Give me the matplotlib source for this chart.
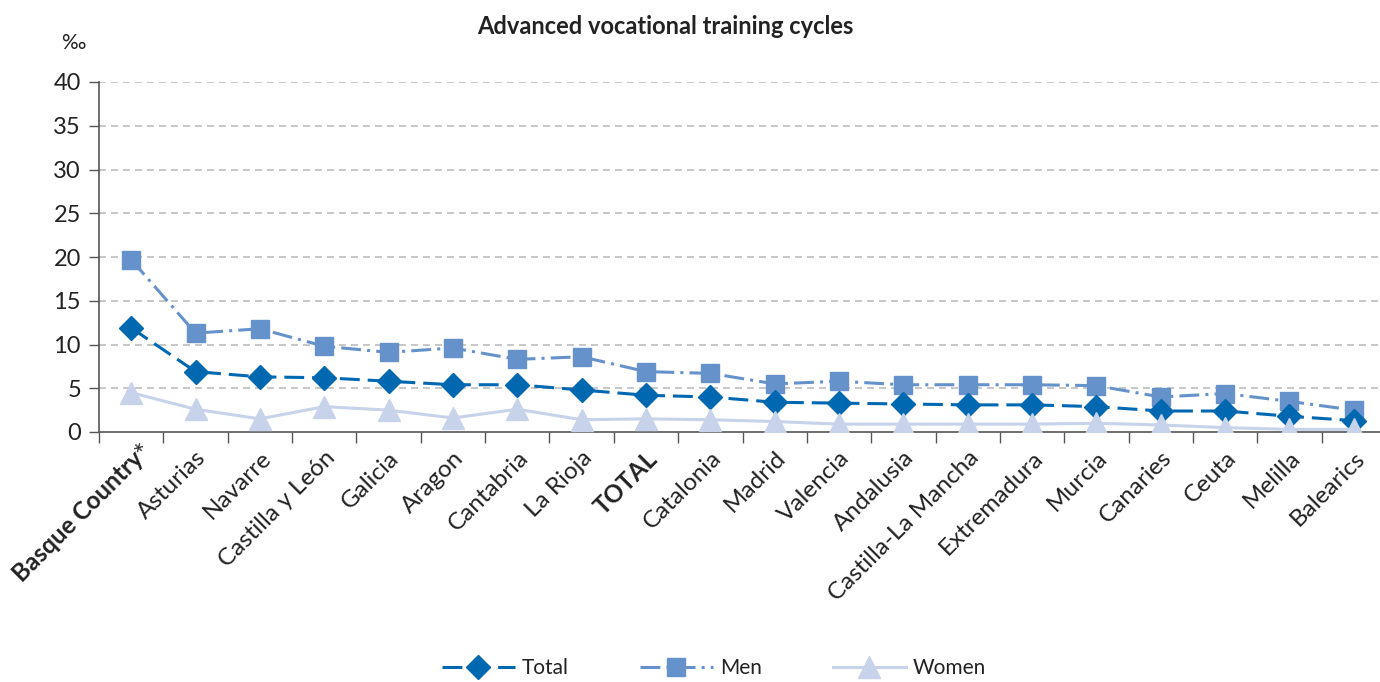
import numpy as np
import matplotlib
matplotlib.use("Agg")
import matplotlib.pyplot as plt
from matplotlib.ticker import FixedLocator

plt.rcParams['font.family'] = ['Lato', 'DejaVu Sans']

# Datos por comunidad (tanto por mil)
regions = ['Basque Country', 'Asturias', 'Navarre', 'Castilla y León', 'Galicia',
           'Aragon', 'Cantabria', 'La Rioja', 'TOTAL', 'Catalonia', 'Madrid',
           'Valencia', 'Andalusia', 'Castilla-La Mancha', 'Extremadura', 'Murcia',
           'Canaries', 'Ceuta', 'Melilla', 'Balearics']
total = [11.9, 6.9, 6.3, 6.2, 5.8, 5.4, 5.4, 4.8, 4.2, 4.0, 3.4, 3.3, 3.2, 3.1,
         3.1, 2.9, 2.4, 2.4, 1.8, 1.3]
men = [19.7, 11.3, 11.8, 9.8, 9.1, 9.6, 8.3, 8.6, 6.9, 6.7, 5.5, 5.8, 5.4, 5.4,
       5.4, 5.3, 4.0, 4.4, 3.5, 2.5]
women = [4.5, 2.6, 1.5, 2.9, 2.5, 1.6, 2.6, 1.4, 1.5, 1.4, 1.2, 0.9, 0.9, 0.9,
         0.9, 1.0, 0.8, 0.5, 0.3, 0.3]
yticks = [0, 5, 10, 15, 20, 25, 30, 35, 40]

c_total = '#0067b1'
c_men = '#6692cc'
c_women = '#c6d3ea'
c_axis = '#555555'
c_text = '#222222'

W, H = 1380, 682
fig = plt.figure(figsize=(W / 100, H / 100), dpi=100)
ax = fig.add_axes([99 / W, 1 - 432 / H, (1386 - 99) / W, (432 - 82) / H])

x = np.arange(len(regions))

ax.plot(x, men, color=c_men, lw=2.2, dashes=(6.5, 2, 1, 2), marker='s', ms=13,
        mec=c_men, mfc=c_men, label='Men', zorder=3)
ax.plot(x, total, color=c_total, lw=2.2, dashes=(6.5, 2.6), marker='D', ms=12,
        mec=c_total, mfc=c_total, label='Total', zorder=4)
ax.plot(x, women, color=c_women, lw=2.2, marker='^', ms=16,
        mec=c_women, mfc=c_women, label='Women', zorder=5)

ax.set_xlim(-0.5, len(regions) - 0.5)
ax.set_ylim(0, 40)
ax.set_yticks(yticks)
ax.tick_params(axis='y', labelsize=17, length=7, width=1, color=c_axis,
               labelcolor=c_text, pad=6)

# rejilla discontinua gris
for y in yticks[1:]:
    ax.axhline(y, color='#bdbdbd', lw=1.2, dashes=(4.2, 3), zorder=1)

ax.set_xticks(x)
ax.xaxis.set_minor_locator(FixedLocator(np.arange(-0.5, len(regions), 1.0)))
ax.tick_params(axis='x', which='major', length=0, pad=11)
ax.tick_params(axis='x', which='minor', length=8, width=1, color=c_axis)
ax.set_xticklabels(regions, rotation=45, ha='right', va='top',
                   rotation_mode='anchor', fontsize=17.5, color=c_text)
for lbl in ax.get_xticklabels():
    if lbl.get_text() in ('Basque Country', 'TOTAL'):
        lbl.set_fontweight('bold')

# asterisco de la primera etiqueta
ax.annotate('*', xy=(0, 0), xycoords=('data', 'axes fraction'),
            xytext=(14, -19.5), textcoords='offset points', ha='center',
            va='baseline', rotation=45, rotation_mode='anchor',
            fontsize=20, color=c_text)

for s in ('top', 'right'):
    ax.spines[s].set_visible(False)
for s in ('left', 'bottom'):
    ax.spines[s].set_color(c_axis)
    ax.spines[s].set_linewidth(1.2)

fig.text(665 / W, 1 - 26 / H, 'Advanced vocational training cycles',
         ha='center', va='center', fontsize=17, fontweight='bold', color=c_text)
fig.text(73 / W, 1 - 43 / H, '‰', ha='center', va='center', fontsize=15,
         color=c_text)

handles, labels = ax.get_legend_handles_labels()
order = [1, 0, 2]
fig.legend([handles[i] for i in order], [labels[i] for i in order],
           loc='center', bbox_to_anchor=(714 / W, 1 - 668 / H), ncol=3,
           frameon=False, fontsize=15, handlelength=3.5, columnspacing=3.4,
           handletextpad=0.35, labelcolor=c_text)

fig.savefig('out.png', dpi=100)
